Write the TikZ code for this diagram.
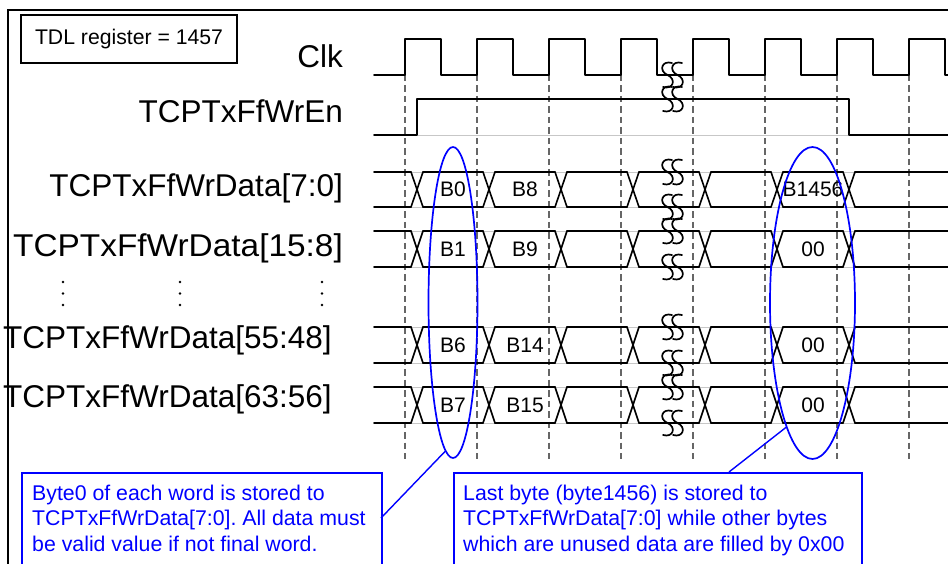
\documentclass[tikz,border=0pt]{standalone}
\usepackage{fontspec}
\setmainfont{Liberation Sans}
\frenchspacing
\usetikzlibrary{shapes.geometric}
\tikzset{
  sig/.style={line width=1.6pt, line cap=round, line join=round},
  ghost/.style={line width=0.9pt, black!22},
  guide/.style={line width=1.1pt, black!60, dash pattern=on 6.5pt off 4pt},
  lbl/.style={font=\fontsize{31.5}{36}\selectfont, inner sep=0},
  val/.style={font=\fontsize{21}{25}\selectfont, inner sep=0},
  note/.style={font=\fontsize{21.3}{25.5}\selectfont, text=blue, align=left, inner sep=0, anchor=north west},
  hl/.style={draw=blue, line width=1.7pt, ellipse, inner sep=0},
  callbox/.style={draw=blue, line width=1.6pt, inner sep=0, minimum height=110, anchor=north west},
  link/.style={draw=blue, line width=1.4pt},
  squig/.style={line width=1.7pt, line cap=round},
  brk/.pic={
    \draw[squig] (-0.5,-12) .. controls (-11,-15) and (-14,-4) .. (-5,0) .. controls (4,4) and (1,15) .. (-9.5,12);
    \draw[squig] (9.5,-12) .. controls (-1,-15) and (-4,-4) .. (5,0) .. controls (14,4) and (11,15) .. (0.5,12);
  }
}
\begin{document}
\begin{tikzpicture}[x=1pt,y=-1pt]
\useasboundingbox (0,0) rectangle (948,564);
\clip (0,0) rectangle (948,564);
\fill[white] (0,0) rectangle (948,564);
% frame
\draw[line width=2pt] (8,570) -- (8,10) -- (960,10);
% TDL box
\node[draw, line width=1.3pt, minimum width=216, minimum height=48, inner sep=0,
      font=\fontsize{21.2}{25}\selectfont] (tdl) at (129,39) {TDL register = 1457};
% signal labels
\node[lbl, anchor=base east] (lclk) at (343,68) {Clk};
\node[lbl, anchor=base east] (len) at (343,123) {TCPTxFfWrEn};
\node[lbl, anchor=base east] (ld0) at (343,197) {TCPTxFfWrData[7:0]};
\node[lbl, anchor=base east, xscale=1.06] (ld1) at (343,257) {TCPTxFfWrData[15:8]};
\node[lbl, anchor=base west] (ld6) at (3,348) {TCPTxFfWrData[55:48]};
\node[lbl, anchor=base west] (ld7) at (3,407) {TCPTxFfWrData[63:56]};
% vertical dots
\foreach \x in {63,180,322}{
  \foreach \y in {282,293.5,305}{
    \fill (\x,\y) circle (1.3);
  }
}
% guide lines
\foreach \x in {405,477,549,621,693,765,837,909}{
  \draw[guide] (\x,75) -- (\x,459);
}
% ghost lines
\draw[ghost] (374,135) -- (948,135);
\foreach \y in {172,207,231,267,327,363,387,423}{
  \draw[ghost] (374,\y) -- (948,\y);
}
% clock
\draw[sig] (374,75) -- (405,75) -- (405,39) -- (441,39) -- (441,75) -- (477,75) -- (477,39) -- (513,39) -- (513,75)
  -- (549,75) -- (549,39) -- (585,39) -- (585,75) -- (621,75) -- (621,39) -- (657,39) -- (657,75)
  -- (693,75) -- (693,39) -- (729,39) -- (729,75) -- (765,75) -- (765,39) -- (801,39) -- (801,75)
  -- (837,75) -- (837,39) -- (873,39) -- (873,75) -- (909,75) -- (909,39) -- (945,39) -- (945,75) -- (952,75);
% write enable
\draw[sig] (374,135) -- (417,135) -- (417,99) -- (849,99) -- (849,135) -- (952,135);
% data buses
\foreach \yt/\yb in {172/207,231/267,327/363,387/423}{
  \foreach \t in {417,489,561,633,705,777,849}{
    \draw[sig] (\t-6,\yt) -- (\t+6,\yb) (\t-6,\yb) -- (\t+6,\yt);
  }
  \foreach \a/\b in {374/411,423/483,495/555,567/627,639/699,711/771,783/843,855/952}{
    \draw[sig] (\a,\yt) -- (\b,\yt) (\a,\yb) -- (\b,\yb);
  }
}
% break marks
\foreach \y in {75,99,172,207,231,267,327,363,387,423}{
  \pic at (672.5,\y) {brk};
}
% values
\node[val] (v00) at (453,189.5) {B0};
\node[val] (v01) at (525,189.5) {B8};
\node[val] (v02) at (813,189.5) {B1456};
\node[val] (v10) at (453,249) {B1};
\node[val] (v11) at (525,249) {B9};
\node[val] (v12) at (813,249) {00};
\node[val] (v60) at (453,345) {B6};
\node[val] (v61) at (525,345) {B14};
\node[val] (v62) at (813,345) {00};
\node[val] (v70) at (453,405) {B7};
\node[val] (v71) at (525,405) {B15};
\node[val] (v72) at (813,405) {00};
% highlight ellipses
\node[hl, minimum width=49, minimum height=311] (e1) at (453,302.5) {};
\node[hl, minimum width=85, minimum height=312] (e2) at (812.5,303) {};
% callout boxes
\node[callbox, minimum width=360] (b1) at (21,472) {};
\node[callbox, minimum width=408] (b2) at (453,472) {};
\node[note] (t1) at (32,484.5) {Byte0 of each word is stored to\\TCPTxFfWrData[7:0]. All data must\\be valid value if not final word.};
\node[note] (t2) at (463,484.5) {Last byte (byte1456) is stored to\\TCPTxFfWrData[7:0] while other bytes\\which are unused data are filled by 0x00};
% connectors
\coordinate (c1) at (381,518);
\coordinate (c2) at (729,472);
\draw[link] (e1.267) -- (c1);
\draw[link] (c2) -- (e2.258);
\end{tikzpicture}
\end{document}
